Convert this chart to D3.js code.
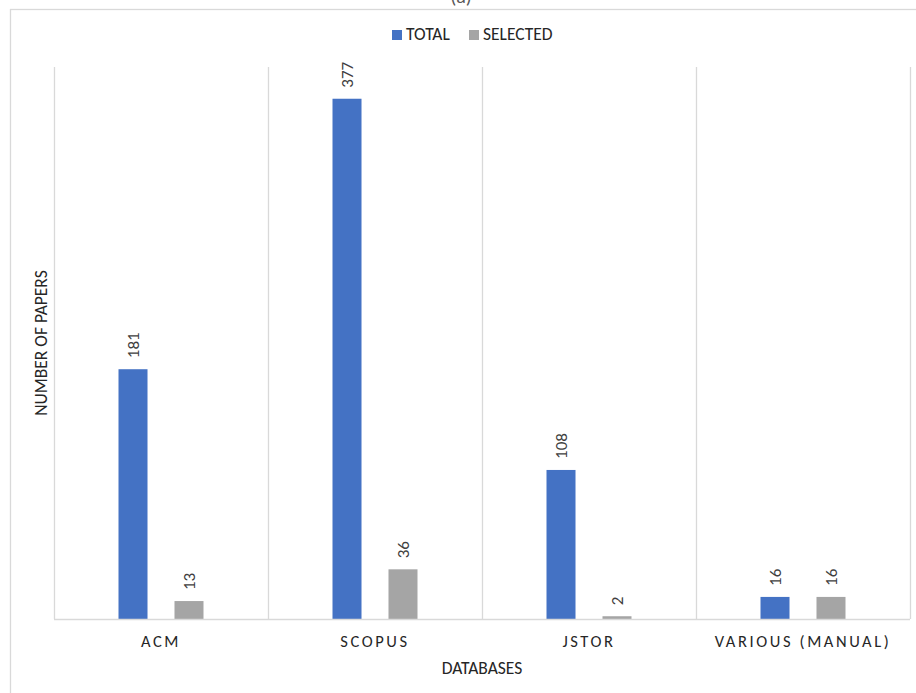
<!DOCTYPE html>
<html><head><meta charset="utf-8">
<script src="https://cdn.jsdelivr.net/npm/d3@7"></script>
<style>body{margin:0;background:#fff;} svg{display:block;font-family:Carlito,"Liberation Sans",Arial,sans-serif;}</style>
</head><body>
<svg id="c" width="916" height="693"></svg>
<script>
const categories = ["ACM", "SCOPUS", "JSTOR", "VARIOUS (MANUAL)"];
const seriesNames = ["TOTAL", "SELECTED"];
const totalValues = [181, 377, 108, 16];
const selectedValues = [13, 36, 2, 16];
const colors = ["#4472C4", "#A5A5A5"];

const svg = d3.select("#c");
const plot = {left: 54, right: 910, top: 67, bottom: 619};

// frame
svg.append("rect").attr("x", 10.5).attr("y", 9.5).attr("width", 1000).attr("height", 1000)
  .attr("fill", "none").attr("stroke", "#d9d9d9").attr("stroke-width", 1.3);
// title, cut off at the top edge as in the reference
svg.append("text").attr("x", 461).attr("y", 3).attr("text-anchor", "middle")
  .attr("font-size", 20).attr("fill", "#595959").text("(a)");

const x0 = d3.scaleBand().domain(categories).range([plot.left, plot.right]).paddingInner(0).paddingOuter(0);
const half = x0.bandwidth() / 2;
const x1 = d3.scaleBand().domain(seriesNames).range([half - 42.5, half + 42.5]).paddingInner(0.482).paddingOuter(0);
const y = d3.scaleLinear().domain([0, 400]).range([plot.bottom, plot.top]);

// vertical gridlines at category boundaries
const bounds = categories.map(c => x0(c)).concat([plot.right]);
svg.append("g").selectAll("line").data(bounds).join("line")
  .attr("x1", d => d + 0.5).attr("x2", d => d + 0.5)
  .attr("y1", plot.top).attr("y2", plot.bottom)
  .attr("stroke", "#d9d9d9").attr("stroke-width", 1.3);

const data = categories.map((c, i) => ({cat: c, vals: [
  {s: seriesNames[0], v: totalValues[i], col: colors[0]},
  {s: seriesNames[1], v: selectedValues[i], col: colors[1]}
]}));

const groups = svg.append("g").selectAll("g.cat").data(data).join("g")
  .attr("transform", d => `translate(${x0(d.cat)},0)`);
groups.selectAll("rect").data(d => d.vals).join("rect")
  .attr("x", d => x1(d.s)).attr("width", x1.bandwidth())
  .attr("y", d => y(d.v)).attr("height", d => y(0) - y(d.v))
  .attr("fill", d => d.col);
groups.selectAll("text").data(d => d.vals).join("text")
  .attr("transform", d => `translate(${x1(d.s) + x1.bandwidth()/2 + 6},${y(d.v) - 11}) rotate(-90)`)
  .attr("font-size", 17).attr("fill", "#404040").text(d => d.v);

// x axis line
svg.append("line").attr("x1", plot.left).attr("x2", plot.right)
  .attr("y1", plot.bottom + 0.5).attr("y2", plot.bottom + 0.5)
  .attr("stroke", "#d9d9d9").attr("stroke-width", 1.3);

const xAxis = svg.append("g").attr("transform", `translate(0,${plot.bottom})`)
  .call(d3.axisBottom(x0).tickSize(0).tickPadding(16));
xAxis.select(".domain").remove();
xAxis.selectAll("text").attr("font-size", 16.5).attr("fill", "#262626")
  .attr("font-family", "Carlito,'Liberation Sans',Arial,sans-serif")
  .style("letter-spacing", "2.6px");

// axis titles
svg.append("text").attr("x", 482).attr("y", 674).attr("text-anchor", "middle")
  .attr("font-size", 17.5).attr("fill", "#262626").text("DATABASES");
svg.append("text").attr("transform", "translate(47,343) rotate(-90)").attr("text-anchor", "middle")
  .attr("font-size", 17.5).attr("fill", "#262626").text("NUMBER OF PAPERS");

// legend
const legItems = [{n: seriesNames[0], c: colors[0], x: 392}, {n: seriesNames[1], c: colors[1], x: 469}];
const leg = svg.append("g");
leg.selectAll("rect").data(legItems).join("rect")
  .attr("x", d => d.x).attr("y", 30).attr("width", 10).attr("height", 10).attr("fill", d => d.c);
leg.selectAll("text").data(legItems).join("text")
  .attr("x", d => d.x + 14).attr("y", 40).attr("font-size", 17.5).attr("fill", "#262626").text(d => d.n);
</script>
</body></html>
